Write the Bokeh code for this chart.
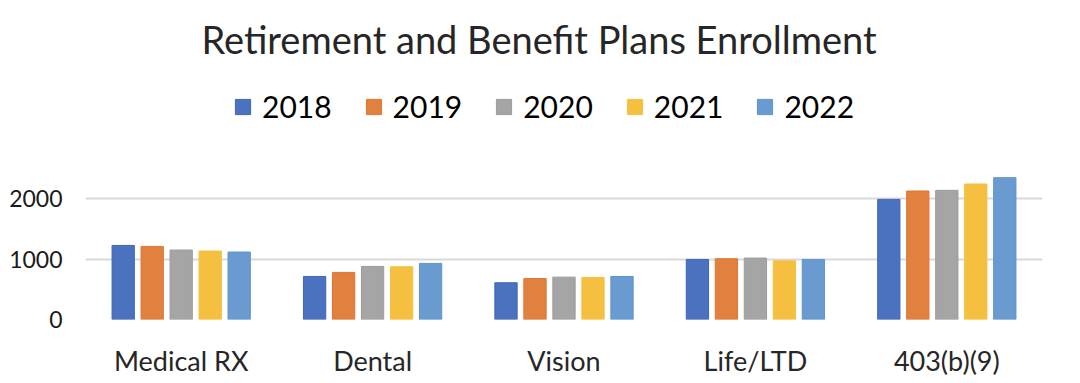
from bokeh.plotting import figure
from bokeh.models import ColumnDataSource, Range1d, FixedTicker, Legend, Label
from bokeh.transform import dodge
from bokeh.embed import file_html
from bokeh.resources import INLINE

categories = ["Medical RX", "Dental", "Vision", "Life/LTD", "403(b)(9)"]
years = ["2018", "2019", "2020", "2021", "2022"]
v2018 = [1227, 713, 609, 995, 1990]
v2019 = [1211, 780, 680, 1007, 2129]
v2020 = [1151, 879, 702, 1018, 2140]
v2021 = [1134, 874, 697, 973, 2245]
v2022 = [1118, 929, 713, 995, 2350]
y_ticks = [0, 1000, 2000]

colors = ["#4A72BF", "#E0813F", "#A5A5A5", "#F5BF3F", "#699BD1"]
edges = ["#3F66B8", "#E07530", "#9C9C9C", "#F5C040", "#5F93CE"]

src = ColumnDataSource(dict(cat=categories, y2018=v2018, y2019=v2019,
                            y2020=v2020, y2021=v2021, y2022=v2022))

FONT = "Lato"

p = figure(x_range=categories, y_range=Range1d(0, 5285), width=1080, height=383,
           output_backend="svg", toolbar_location=None,
           min_border_left=85, min_border_right=38, min_border_bottom=64, min_border_top=0)
p.outline_line_color = None
p.background_fill_color = "white"

pitch = 0.1515
bw = 0.1165
offsets = [-2 * pitch, -pitch, 0, pitch, 2 * pitch]
renderers = []
for yr, off, c, e in zip(years, offsets, colors, edges):
    r = p.vbar(x=dodge("cat", off, range=p.x_range), top="y" + yr, width=bw, source=src,
               fill_color=c, line_color=e, line_width=1)
    renderers.append((yr, [r]))

legend = Legend(items=renderers, orientation="horizontal", location=(148, 195))
legend.glyph_width = 19
legend.glyph_height = 19
legend.label_standoff = 10
legend.spacing = 32
legend.padding = 0
legend.margin = 0
legend.border_line_color = None
legend.background_fill_alpha = 0
legend.label_text_font = FONT
legend.label_text_font_size = "30px"
legend.label_text_color = "#000000"
p.add_layout(legend, "center")

title = Label(x=2.5, y=4494, x_offset=-25, y_offset=9,
              text="Retirement and Benefit Plans Enrollment",
              text_align="center", text_baseline="alphabetic", text_font=FONT,
              text_font_size="38px", text_color="#262626")
p.add_layout(title)

p.yaxis.ticker = FixedTicker(ticks=y_ticks)
p.yaxis.axis_line_color = None
p.yaxis.major_tick_line_color = None
p.yaxis.minor_tick_line_color = None
p.yaxis.major_tick_out = 0
p.yaxis.minor_tick_out = 0
p.yaxis.major_label_standoff = 23
p.yaxis.major_label_text_font = FONT
p.yaxis.major_label_text_font_size = "23px"
p.yaxis.major_label_text_color = "#1a1a1a"

p.xaxis.axis_line_color = None
p.xaxis.major_tick_line_color = None
p.xaxis.minor_tick_line_color = None
p.xaxis.major_tick_out = 0
p.xaxis.minor_tick_out = 0
p.xaxis.major_label_standoff = 24
p.xaxis.major_label_text_font = FONT
p.xaxis.major_label_text_font_size = "27px"
p.xaxis.major_label_text_color = "#262626"

p.xgrid.grid_line_color = None
p.ygrid.grid_line_color = "#D9D9D9"
p.ygrid.grid_line_width = 2
p.ygrid.level = "underlay"

open("out.html", "w").write(file_html(p, INLINE))
